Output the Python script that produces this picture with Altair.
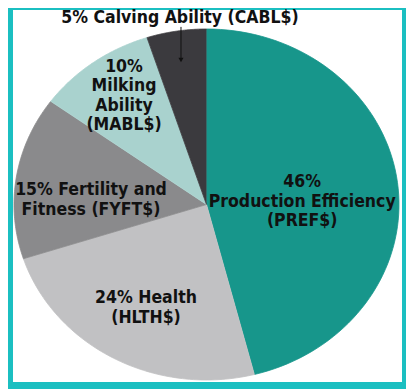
import altair as alt
import pandas as pd

# --- data ---
names = ["PREF$", "HLTH$", "FYFT$", "MABL$", "CABL$"]
shares = [46, 24, 15, 10, 5]
slice_order = [0, 1, 2, 3, 4]
colors = ["#17968b", "#c1c1c3", "#8a8a8c", "#a9d2ce", "#3b3a3e"]

label_lines = [
    "5% Calving Ability (CABL$)",
    "10%", "Milking", "Ability", "(MABL$)",
    "46%", "Production Efficiency", "(PREF$)",
    "15% Fertility and", "Fitness (FYFT$)",
    "24% Health", "(HLTH$)",
]
label_u = [-0.1377,
           -0.4286, -0.4286, -0.4286, -0.4286,
           0.4971, 0.4971, 0.4971,
           -0.600, -0.600,
           -0.3143, -0.3143]
label_v = [1.0320,
           0.7567, 0.6456, 0.5345, 0.4234,
           0.0980, -0.0131, -0.1242,
           0.0541, -0.0570,
           -0.5630, -0.6752]

arrow_u = [-0.1325]
arrow_top = [1.0120]
arrow_end = [0.8348]
arrow_head = [0.8234]

FONT = "Liberation Sans Narrow, DejaVu Sans Condensed, Roboto, sans-serif"

xs = alt.Scale(domain=[-1.0052, 1.0156], nice=False, zero=False)
ys = alt.Scale(domain=[-1.0114, 1.1083], nice=False, zero=False)
cscale = alt.Scale(domain=names, range=colors)

slices = pd.DataFrame({"name": names, "share": shares, "ord": slice_order})

pie = (
    alt.Chart(slices)
    .transform_window(cum="sum(share)", sort=[alt.SortField("ord")], frame=[None, 0])
    .transform_calculate(start="datum.cum - datum.share")
    .transform_calculate(idx="sequence(0, 82)")
    .transform_flatten(["idx"])
    .transform_calculate(ang="2*PI*(datum.start + datum.share*(datum.idx-1)/80)/100")
    .transform_calculate(px="datum.idx == 0 ? 0 : sin(datum.ang)")
    .transform_calculate(py="datum.idx == 0 ? 0 : cos(datum.ang)")
    .mark_line(filled=True, strokeWidth=0.8, interpolate="linear")
    .encode(
        x=alt.X("px:Q", scale=xs, axis=None),
        y=alt.Y("py:Q", scale=ys, axis=None),
        color=alt.Color("name:N", scale=cscale, legend=None),
        stroke=alt.Stroke("name:N", scale=cscale, legend=None),
        detail="name:N",
        order="idx:Q",
    )
)

labels_df = pd.DataFrame({"t": label_lines, "u": label_u, "v": label_v})
labels = (
    alt.Chart(labels_df)
    .mark_text(font=FONT, fontSize=17.5, fontWeight="bold", align="center",
               baseline="alphabetic", color="#111111")
    .encode(
        x=alt.X("u:Q", scale=xs, axis=None),
        y=alt.Y("v:Q", scale=ys, axis=None),
        text="t:N",
    )
)

arrow_df = pd.DataFrame({"u": arrow_u, "v1": arrow_top, "v2": arrow_end, "vh": arrow_head})
arrow = (
    alt.Chart(arrow_df)
    .mark_rule(color="#111111", strokeWidth=1)
    .encode(
        x=alt.X("u:Q", scale=xs, axis=None),
        y=alt.Y("v1:Q", scale=ys, axis=None),
        y2="v2:Q",
    )
)
head = (
    alt.Chart(arrow_df)
    .mark_point(shape="triangle-down", filled=True, size=26, color="#111111", opacity=1)
    .encode(
        x=alt.X("u:Q", scale=xs, axis=None),
        y=alt.Y("vh:Q", scale=ys, axis=None),
    )
)

chart = (
    alt.layer(pie, arrow, head, labels)
    .properties(
        width=389,
        height=372,
        padding={"left": 5, "top": 2, "right": 4, "bottom": 7},
        autosize="none",
    )
    .configure(background="#1bbfc1")
    .configure_view(fill="white", strokeWidth=0)
)

chart.save("out.html", embed_options={"renderer": "svg", "actions": False})
